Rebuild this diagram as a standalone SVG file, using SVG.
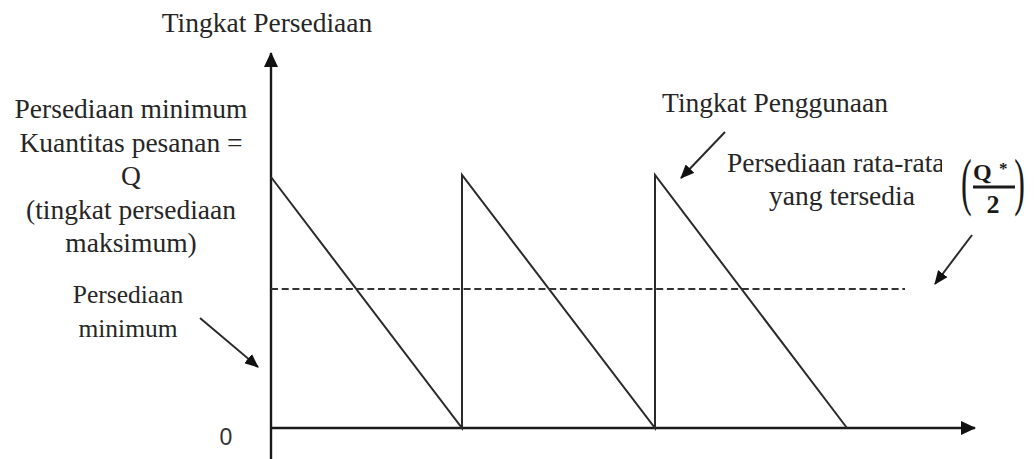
<svg xmlns="http://www.w3.org/2000/svg" width="1034" height="459" viewBox="0 0 1034 459">
  <style>
    .lbl { font-family: "Liberation Serif", "Times New Roman", serif; font-size: 27.5px; fill: #262626; }
    .sm { font-size: 25.5px; }
    .ln { stroke: #2a2a2a; stroke-width: 2; fill: none; }
    .ax { stroke: #1a1a1a; stroke-width: 2.4; fill: none; }
    .dash { stroke: #333; stroke-width: 2.2; stroke-dasharray: 7 3.7; fill: none; }
    .mth { font-family: "Liberation Serif", "Times New Roman", serif; font-weight: bold; fill: #1a1a1a; }
    .par { font-family: "Liberation Serif", "Times New Roman", serif; font-size: 32px; fill: #1a1a1a; }
  </style>
  <defs>
    <marker id="ah" viewBox="0 0 14 12" refX="13" refY="6" markerWidth="14" markerHeight="12" markerUnits="userSpaceOnUse" orient="auto">
      <path d="M0,0 L14,6 L0,12 z" fill="#111"/>
    </marker>
    <marker id="axh" viewBox="0 0 15 14" refX="14" refY="7" markerWidth="15" markerHeight="14" markerUnits="userSpaceOnUse" orient="auto">
      <path d="M0,0 L15,7 L0,14 z" fill="#111"/>
    </marker>
    <clipPath id="clipRata">
      <rect x="700" y="140" width="242" height="45"/>
    </clipPath>
  </defs>
  <rect width="1034" height="459" fill="#ffffff"/>

  <g id="connectors">
    <line id="y-axis" class="ax" x1="271" y1="459" x2="271" y2="53" marker-end="url(#axh)"/>
    <line id="x-axis" class="ax" x1="271" y1="428" x2="975" y2="428" marker-end="url(#axh)"/>
    <path id="sawtooth" class="ln" d="M271,177 L462,428 L462,175 L655,428 L655,175 L847,428"/>
    <line id="avg-line" class="dash" x1="271" y1="289" x2="905" y2="289"/>
    <line id="arrow-usage" class="ln" x1="725" y1="132" x2="681" y2="178" marker-end="url(#ah)"/>
    <line id="arrow-avg" class="ln" x1="972" y1="235" x2="935" y2="284" marker-end="url(#ah)"/>
    <line id="arrow-min" class="ln" x1="200" y1="318" x2="258" y2="367" marker-end="url(#ah)"/>
  </g>

  <g id="title-y">
    <text class="lbl" x="267" y="32" text-anchor="middle">Tingkat Persediaan</text>
  </g>

  <g id="label-max" class="lbl" text-anchor="middle">
    <text x="131" y="118">Persediaan minimum</text>
    <text x="131" y="151.5">Kuantitas pesanan =</text>
    <text x="131" y="185">Q</text>
    <text x="131" y="218.5">(tingkat persediaan</text>
    <text x="131" y="252">maksimum)</text>
  </g>

  <g id="label-min" class="lbl sm" text-anchor="middle">
    <text x="128" y="303">Persediaan</text>
    <text x="128" y="337">minimum</text>
  </g>

  <g id="label-zero">
    <text x="226" y="445" text-anchor="middle" style="font-family: 'Liberation Sans', Arial, sans-serif; font-size: 23px; fill: #333;">0</text>
  </g>

  <g id="label-usage">
    <text class="lbl" x="775" y="112" text-anchor="middle">Tingkat Penggunaan</text>
  </g>

  <g id="label-avg" class="lbl">
    <text x="727" y="172" clip-path="url(#clipRata)">Persediaan rata-rata</text>
    <text x="842" y="205" text-anchor="middle">yang tersedia</text>
  </g>

  <g id="formula">
    <text class="par" transform="translate(961,203) scale(1,2)" x="0" y="0">(</text>
    <text class="par" transform="translate(1025,203) scale(1,2)" x="0" y="0" text-anchor="end">)</text>
    <text class="mth" x="973" y="180" style="font-size: 24px;">Q</text>
    <text class="mth" x="999" y="174" style="font-size: 17px;">*</text>
    <line x1="973" y1="187" x2="1015" y2="187" stroke="#1a1a1a" stroke-width="3"/>
    <text class="mth" x="993" y="213" text-anchor="middle" style="font-size: 26px;">2</text>
  </g>
</svg>
